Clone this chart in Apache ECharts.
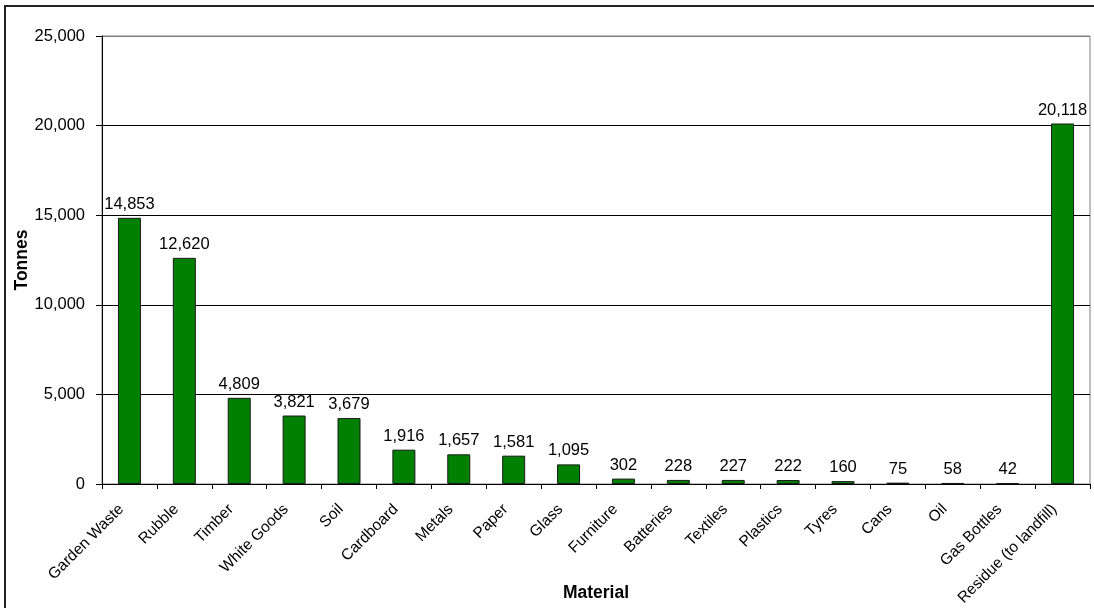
<!DOCTYPE html>
<html>
<head>
<meta charset="utf-8">
<title>Material collected (tonnes)</title>
<script src="https://cdn.jsdelivr.net/npm/echarts@6/dist/echarts.min.js"></script>
<style>
  html, body { margin: 0; padding: 0; background: #fff; }
  #chart { width: 1094px; height: 608px; }
</style>
</head>
<body>
<div id="chart"></div>
<script>
// Materials and the tonnes recorded for each
const materials = [
  'Garden Waste', 'Rubble', 'Timber', 'White Goods', 'Soil', 'Cardboard',
  'Metals', 'Paper', 'Glass', 'Furniture', 'Batteries', 'Textiles',
  'Plastics', 'Tyres', 'Cans', 'Oil', 'Gas Bottles', 'Residue (to landfill)'
];
const tonnes = [
  14853, 12620, 4809, 3821, 3679, 1916,
  1657, 1581, 1095, 302, 228, 227,
  222, 160, 75, 58, 42, 20118
];
const yMin = 0;
const yMax = 25000;
const yStep = 5000;

const FONT = "'Liberation Sans', Arial, sans-serif";
const fmt = v => v.toLocaleString('en-US');

const chart = echarts.init(document.getElementById('chart'), null, { renderer: 'canvas' });

chart.setOption({
  animation: false,
  backgroundColor: '#ffffff',
  textStyle: { fontFamily: FONT, color: '#000' },
  grid: {
    left: 102, right: 4, top: 36, bottom: 124,
    containLabel: false, outerBoundsMode: 'none',
    show: true, borderColor: '#808080', borderWidth: 1
  },
  graphic: [{
    type: 'rect',
    shape: { x: 5, y: 6, width: 1200, height: 800 },
    style: { fill: 'none', stroke: '#222', lineWidth: 2 },
    silent: true
  }],
  xAxis: {
    type: 'category',
    data: materials,
    boundaryGap: true,
    name: 'Material',
    nameLocation: 'middle',
    nameGap: 100,
    nameMoveOverlap: false,
    nameTextStyle: { fontFamily: FONT, fontSize: 17.5, fontWeight: 'bold', color: '#000' },
    axisLine: { lineStyle: { color: '#000', width: 1 } },
    axisTick: { show: true, alignWithLabel: false, length: 5, lineStyle: { color: '#000' } },
    axisLabel: {
      interval: 0, rotate: 45, margin: 31,
      align: 'right', verticalAlign: 'bottom', lineHeight: 23,
      fontFamily: FONT, fontSize: 15.5, color: '#000'
    },
    splitLine: { show: false }
  },
  yAxis: {
    type: 'value',
    min: yMin, max: yMax, interval: yStep,
    name: 'Tonnes',
    nameLocation: 'middle',
    nameGap: 71,
    nameRotate: 90,
    nameMoveOverlap: false,
    nameTextStyle: { fontFamily: FONT, fontSize: 17.5, fontWeight: 'bold', color: '#000' },
    axisLine: { show: true, lineStyle: { color: '#000', width: 1 } },
    axisTick: { show: true, length: 6, lineStyle: { color: '#000' } },
    axisLabel: {
      margin: 17, fontFamily: FONT, fontSize: 16.5, color: '#000',
      formatter: v => fmt(v)
    },
    splitLine: {
      show: true,
      lineStyle: { color: ['#000', '#000', '#000', '#000', '#000', '#808080'], width: 1 }
    }
  },
  series: [{
    type: 'bar',
    data: tonnes,
    barWidth: 23,
    itemStyle: { color: '#008000', borderColor: '#1a1a1a', borderWidth: 1 },
    label: {
      show: true, position: 'top', distance: 5,
      fontFamily: FONT, fontSize: 16.5, color: '#000',
      formatter: p => fmt(p.value)
    }
  }]
});
</script>
</body>
</html>
